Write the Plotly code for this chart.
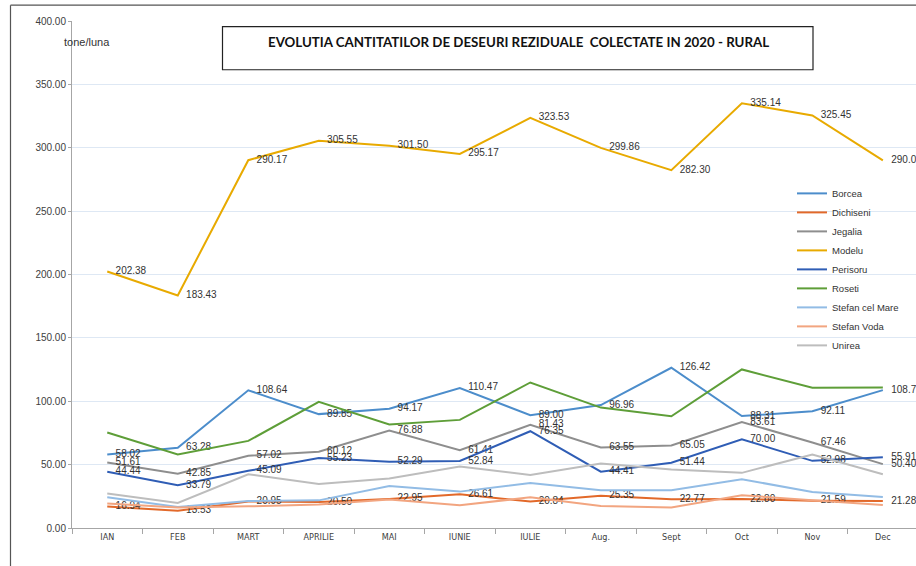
import plotly.graph_objects as go

months = ["IAN", "FEB", "MART", "APRILIE", "MAI", "IUNIE", "IULIE", "Aug.", "Sept", "Oct", "Nov", "Dec"]
borcea = [58.02, 63.28, 108.64, 89.85, 94.17, 110.47, 89.00, 96.96, 126.42, 88.31, 92.11, 108.75]
dichiseni = [16.94, 13.53, 20.95, 20.50, 22.95, 26.61, 20.84, 25.35, 22.77, 22.80, 21.59, 21.28]
jegalia = [51.61, 42.85, 57.02, 60.12, 76.88, 61.41, 81.43, 63.55, 65.05, 83.61, 67.46, 50.40]
modelu = [202.38, 183.43, 290.17, 305.55, 301.50, 295.17, 323.53, 299.86, 282.30, 335.14, 325.45, 290.05]
perisoru = [44.44, 33.79, 45.09, 55.23, 52.29, 52.84, 76.35, 44.41, 51.44, 70.00, 52.98, 55.91]
roseti = [75.4, 58.0, 68.7, 99.6, 81.7, 85.3, 114.8, 95.0, 88.2, 125.1, 110.6, 110.9]
stefan_cel_mare = [24.2, 16.6, 21.3, 21.8, 33.2, 28.7, 35.5, 29.8, 29.8, 38.5, 28.4, 24.4]
stefan_voda = [19.3, 16.1, 17.1, 18.5, 22.4, 17.9, 24.2, 17.3, 16.2, 25.9, 21.8, 18.2]
unirea = [27.2, 19.8, 42.4, 34.8, 39.0, 48.5, 41.9, 50.9, 46.1, 43.5, 58.0, 42.4]

series = [
    ("Borcea", borcea, "#4C8DCB", True),
    ("Dichiseni", dichiseni, "#E2692A", True),
    ("Jegalia", jegalia, "#8E8E8E", True),
    ("Modelu", modelu, "#E8AA00", True),
    ("Perisoru", perisoru, "#2F5DB5", True),
    ("Roseti", roseti, "#5E9E38", False),
    ("Stefan cel Mare", stefan_cel_mare, "#92BCE5", False),
    ("Stefan Voda", stefan_voda, "#F2A580", False),
    ("Unirea", unirea, "#BDBDBD", False),
]

LBL = "Liberation Sans, Arial, sans-serif"
PAD = "\u00a0\u00a0\u00a0"

fig = go.Figure()
for name, vals, color, labels in series:
    fig.add_trace(go.Scatter(
        x=months, y=vals, name=name,
        mode="lines+text" if labels else "lines",
        line=dict(color=color, width=2),
        text=[PAD + f"{v:.2f}" for v in vals] if labels else None,
        textposition="middle right",
        textfont=dict(family=LBL, size=10, color="#333333"),
        cliponaxis=False,
    ))

# pixel -> paper helpers
L, R, T, B = 72, 916, 21.3, 527.7
def px(x):
    return (x - L) / (R - L)
def py(y):
    return (B - y) / (B - T)

shapes = [
    # chart outer border
    dict(type="line", xref="paper", yref="paper", x0=px(10.5), x1=px(10.5), y0=py(570), y1=py(5.5),
         line=dict(color="#555555", width=1.2)),
    dict(type="line", xref="paper", yref="paper", x0=px(10.5), x1=px(916), y0=py(5.5), y1=py(5.5),
         line=dict(color="#555555", width=1.2)),
    # title box
    dict(type="rect", xref="paper", yref="paper", x0=px(222.5), x1=px(813), y0=py(70), y1=py(27),
         line=dict(color="#222222", width=1.2), fillcolor="white", layer="above"),
]

annotations = [
    dict(text="<b>EVOLUTIA CANTITATILOR DE DESEURI REZIDUALE  COLECTATE IN 2020 - RURAL</b>",
         xref="paper", yref="paper", x=px(518), y=py(42), xanchor="center", yanchor="middle",
         showarrow=False, font=dict(family="Lato, Liberation Sans, sans-serif", size=13.3, color="#111111")),
    dict(text="tone/luna", xref="paper", yref="paper", x=px(62), y=py(42), xanchor="left", yanchor="middle",
         showarrow=False, font=dict(family=LBL, size=11, color="#333333")),
]

fig.update_layout(
    width=916, height=566,
    margin=dict(l=L, r=0, t=T, b=566 - B),
    paper_bgcolor="white", plot_bgcolor="white",
    showlegend=True,
    legend=dict(x=px(792), y=py(179), xanchor="left", yanchor="top",
                font=dict(family=LBL, size=9.5, color="#333333"),
                bgcolor="rgba(0,0,0,0)", tracegroupgap=0, itemwidth=30),
    shapes=shapes, annotations=annotations,
)
fig.update_xaxes(
    type="category", range=[-0.5, 11.47], tickson="boundaries",
    showline=True, linecolor="#A6A6A6", linewidth=1,
    ticks="outside", ticklen=5, tickcolor="#A6A6A6",
    showgrid=False, zeroline=False,
    tickfont=dict(family="Liberation Sans Narrow, DejaVu Sans Condensed, sans-serif", size=9, color="#404040"),
)
fig.update_yaxes(
    range=[0, 400], dtick=50, tickformat=".2f",
    showline=True, linecolor="#A6A6A6", linewidth=1,
    ticks="outside", ticklen=3, tickcolor="#A6A6A6",
    showgrid=True, gridcolor="#DEE8F4", gridwidth=1, zeroline=False,
    tickfont=dict(family=LBL, size=10, color="#404040"),
)

fig.write_html(
    "out.html", config={"displayModeBar": False},
    post_script=("document.body.style.margin='0';document.body.style.overflow='hidden';"
                 "document.documentElement.style.overflow='hidden';"),
)
